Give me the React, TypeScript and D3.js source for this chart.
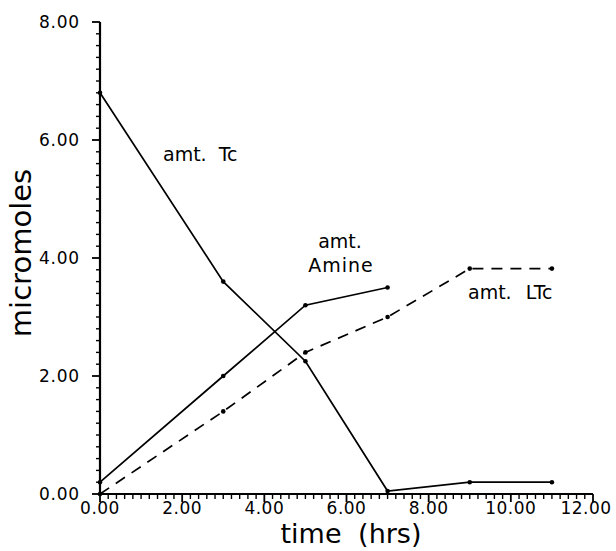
import React from "react";
import * as d3 from "d3";

// data
const tcTime = [0, 3, 5, 7, 9, 11];
const tcAmt = [6.8, 3.6, 2.25, 0.05, 0.2, 0.2];
const amineTime = [0, 3, 5, 7];
const amineAmt = [0.2, 2.0, 3.2, 3.5];
const ltcTime = [0, 3, 5, 7, 9, 11];
const ltcAmt = [0.0, 1.4, 2.4, 3.0, 3.82, 3.82];
const xTicks = [0, 2, 4, 6, 8, 10, 12];
const yTicks = [0, 2, 4, 6, 8];

const W = 616,
  H = 551;
const font = "'DejaVu Sans', sans-serif";

const App = () => {
  const x = d3.scaleLinear().domain([0, 12]).range([100, 593]);
  const y = d3.scaleLinear().domain([0, 8]).range([494, 22]);

  const line = d3
    .line<[number, number]>()
    .x((d) => x(d[0]))
    .y((d) => y(d[1]));

  const tc = tcTime.map((t, i) => [t, tcAmt[i]] as [number, number]);
  const amine = amineTime.map((t, i) => [t, amineAmt[i]] as [number, number]);
  const ltc = ltcTime.map((t, i) => [t, ltcAmt[i]] as [number, number]);

  const xMinor = d3.range(0, 12.001, 0.2);
  const yMinor = d3.range(0, 8.001, 0.2);

  return (
    <svg width={W} height={H} style={{ position: "absolute", left: 0, top: 0 }}>
      <rect width={W} height={H} fill="#fff" />
      {/* axes */}
      <line x1={x(0)} x2={x(0)} y1={y(8)} y2={y(0)} stroke="#000" strokeWidth={2.2} />
      <line x1={x(0)} x2={x(12)} y1={y(0)} y2={y(0)} stroke="#000" strokeWidth={2.2} />
      {yMinor.map((v, i) => {
        const major = i % 10 === 0;
        return (
          <line
            key={"ym" + i}
            x1={x(0) - (major ? 8 : 4)}
            x2={x(0)}
            y1={y(v)}
            y2={y(v)}
            stroke="#000"
            strokeWidth={major ? 1.8 : 1.4}
          />
        );
      })}
      {xMinor.map((v, i) => {
        const major = i % 10 === 0;
        return (
          <line
            key={"xm" + i}
            x1={x(v)}
            x2={x(v)}
            y1={y(0)}
            y2={y(0) + (major ? 8 : 5)}
            stroke="#000"
            strokeWidth={major ? 1.8 : 1.4}
          />
        );
      })}
      {yTicks.map((v) => (
        <text
          key={"yl" + v}
          x={80}
          y={y(v)}
          dy="0.35em"
          textAnchor="end"
          fontFamily={font}
          fontSize={17}
          letterSpacing={0.8}
        >
          {v.toFixed(2)}
        </text>
      ))}
      {xTicks.map((v) => (
        <text
          key={"xl" + v}
          x={x(v) - (v === 12 ? 7 : 0)}
          y={514}
          textAnchor="middle"
          fontFamily={font}
          fontSize={17}
          letterSpacing={0.5}
        >
          {v.toFixed(2)}
        </text>
      ))}
      <text
        transform={`translate(31,253) rotate(-90)`}
        textAnchor="middle"
        fontFamily={font}
        fontSize={29}
      >
        micromoles
      </text>
      <text x={351} y={543} textAnchor="middle" fontFamily={font} fontSize={27} wordSpacing={8}>
        time (hrs)
      </text>

      {/* series */}
      <path d={line(tc) || ""} fill="none" stroke="#000" strokeWidth={1.7} />
      <path d={line(amine) || ""} fill="none" stroke="#000" strokeWidth={1.7} />
      <path
        d={line(ltc) || ""}
        fill="none"
        stroke="#000"
        strokeWidth={1.7}
        strokeDasharray="11 8"
      />
      {[...tc, ...amine, ...ltc].map((d, i) => (
        <circle key={"p" + i} cx={x(d[0])} cy={y(d[1])} r={2.3} fill="#000" />
      ))}

      {/* labels */}
      <text x={163} y={161} fontFamily={font} fontSize={19} wordSpacing={6}>
        amt. Tc
      </text>
      <text x={340} y={248} textAnchor="middle" fontFamily={font} fontSize={19}>
        amt.
      </text>
      <text x={341} y={272} textAnchor="middle" fontFamily={font} fontSize={19} letterSpacing={1}>
        Amine
      </text>
      <text x={468} y={299} fontFamily={font} fontSize={19} wordSpacing={8}>
        amt. LTc
      </text>
    </svg>
  );
};

export default App;
